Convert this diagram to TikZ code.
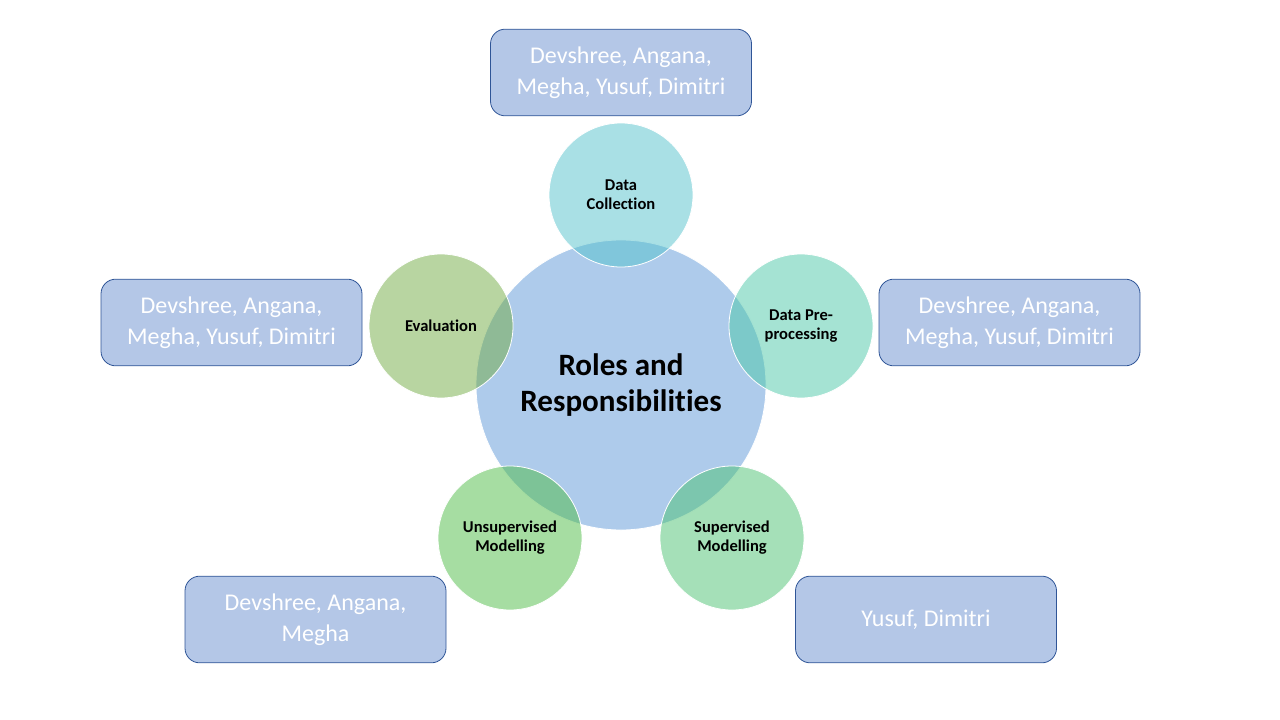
\documentclass[tikz,border=0pt]{standalone}
\usepackage{fontspec}
\setmainfont{Carlito}[Ligatures={NoCommon}]
\usepackage{tikz}
\usetikzlibrary{positioning}
\definecolor{HubBlue}{RGB}{93,151,215}
\definecolor{CollTeal}{RGB}{83,193,203}
\definecolor{PrepTeal}{RGB}{75,199,167}
\definecolor{SupGreen}{RGB}{75,193,113}
\definecolor{UnsGreen}{RGB}{77,187,69}
\definecolor{EvalGreen}{RGB}{113,171,67}
\definecolor{TeamFill}{RGB}{180,199,231}
\definecolor{TeamLine}{RGB}{47,85,151}

\begin{document}
\begin{tikzpicture}[x=0.75pt,y=-0.75pt,
  hub/.style={circle,minimum size=217.5pt,inner sep=0pt,fill=HubBlue,fill opacity=0.5,
              draw=white,line width=0.6pt,text opacity=1,align=center,
              font=\fontsize{23.3}{27}\selectfont\bfseries},
  stage/.style={circle,minimum size=108pt,inner sep=0pt,fill opacity=0.5,
                draw=white,line width=0.6pt,text opacity=1,align=center,
                font=\fontsize{12.4}{14.2}\selectfont\bfseries},
  team/.style={draw=TeamLine,fill=TeamFill,rounded corners=11pt,line width=0.6pt,
               minimum width=195.75pt,minimum height=65pt,align=center,text=white,
               font=\fontsize{18}{23.3}\selectfont}
]
\useasboundingbox (0,0) rectangle (1280,720);
% hub and stages
\node[hub] (roles) at (621,385) {Roles and\\Responsibilities};
\node[stage,fill=CollTeal] (collect) at (621,195) {Data\\Collection};
\node[stage,fill=PrepTeal] (preproc) at (801,326) {Data Pre-\\processing};
\node[stage,fill=SupGreen] (superv) at (732,538) {Supervised\\Modelling};
\node[stage,fill=UnsGreen] (unsuperv) at (510,538) {Unsupervised\\Modelling};
\node[stage,fill=EvalGreen] (eval) at (441,326) {Evaluation};
% who does what
\node[team] (tcollect) at (621,72.5) {Devshree, Angana,\\Megha, Yusuf, Dimitri};
\node[team] (tpreproc) at (1009.5,322.5) {Devshree, Angana,\\Megha, Yusuf, Dimitri};
\node[team] (teval) at (231.5,322.5) {Devshree, Angana,\\Megha, Yusuf, Dimitri};
\node[team] (tunsuperv) at (315.5,619.5) {Devshree, Angana,\\Megha};
\node[team] (tsuperv) at (926,619.5) {Yusuf, Dimitri};
\end{tikzpicture}
\end{document}
